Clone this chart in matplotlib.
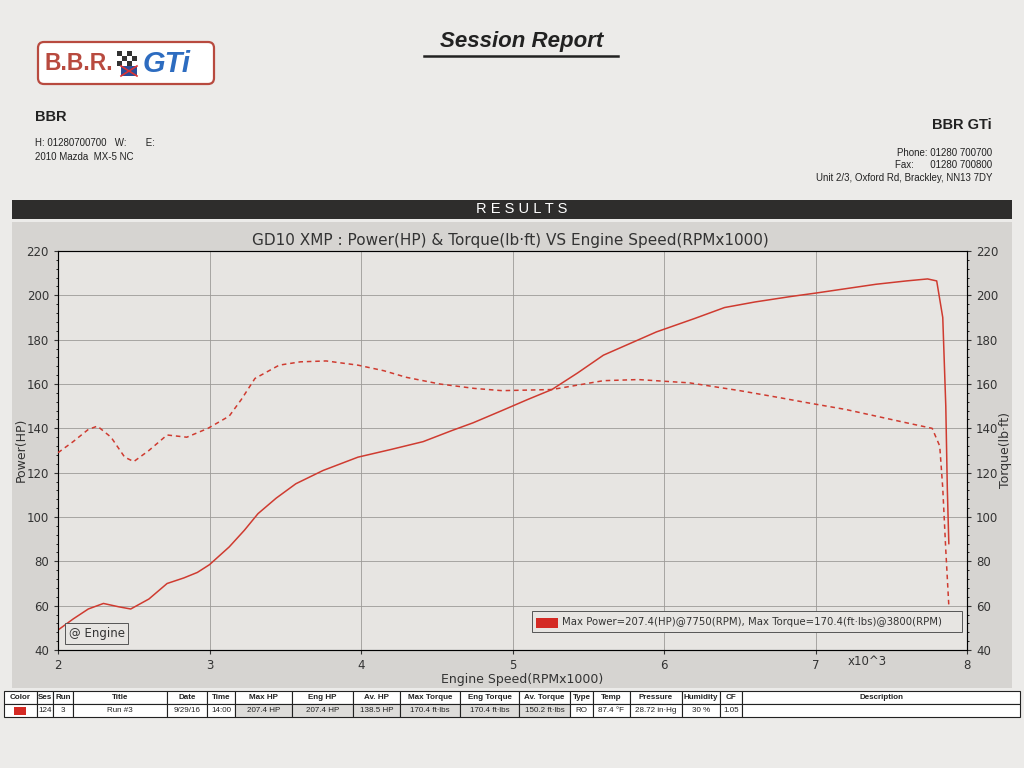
import matplotlib
matplotlib.use('Agg')
import matplotlib.pyplot as plt
from matplotlib.patches import Rectangle, FancyBboxPatch
from matplotlib.ticker import MultipleLocator

# Dyno run data (RPM x1000)
power_rpm = [2.00, 2.10, 2.20, 2.30, 2.40, 2.48, 2.60, 2.72, 2.83, 2.92, 3.00, 3.13,
             3.23, 3.32, 3.44, 3.57, 3.75, 3.98, 4.20, 4.41, 4.60, 4.74, 4.93, 5.10,
             5.26, 5.43, 5.60, 5.80, 5.95, 6.20, 6.40, 6.60, 6.84, 7.00, 7.20, 7.40,
             7.60, 7.74, 7.80, 7.84, 7.86, 7.87, 7.88]
power_hp = [49, 54, 58.5, 61, 59.5, 58.5, 63, 70, 72.5, 75, 78.5, 86.5,
            94, 101.5, 108.5, 115, 121, 127, 130.5, 134, 139, 142.5, 148, 153,
            157.5, 165, 173, 179, 183.5, 189.5, 194.5, 197, 199.5, 201, 203, 205,
            206.5, 207.4, 206.5, 190, 150, 113, 88]

torque_rpm = [2.00, 2.10, 2.20, 2.26, 2.35, 2.44, 2.50, 2.60, 2.72, 2.85, 2.99, 3.13,
              3.21, 3.30, 3.46, 3.60, 3.77, 3.98, 4.15, 4.30, 4.52, 4.75, 4.93, 5.26,
              5.60, 5.83, 6.17, 6.50, 6.75, 6.95, 7.20, 7.40, 7.60, 7.77, 7.82, 7.84,
              7.86, 7.88]
torque_lbft = [129, 134, 139.5, 141, 136, 127, 125, 130, 137, 136, 140, 145.5,
               153, 162.5, 168.5, 170, 170.4, 168.5, 166, 163, 160, 158, 157, 157.5,
               161.5, 162, 160.5, 157, 154, 151.5, 148.5, 145.5, 142.5, 140, 132, 113,
               85, 60]

x_ticks = [2, 3, 4, 5, 6, 7, 8]
y_ticks = [40, 60, 80, 100, 120, 140, 160, 180, 200, 220]

table_cols = ['Color', 'Ses', 'Run', 'Title', 'Date', 'Time', 'Max HP', 'Eng HP',
              'Av. HP', 'Max Torque', 'Eng Torque', 'Av. Torque', 'Type', 'Temp',
              'Pressure', 'Humidity', 'CF', 'Description']
table_row = ['', '124', '3', 'Run #3', '9/29/16', '14:00', '207.4 HP', '207.4 HP',
             '138.5 HP', '170.4 ft·lbs', '170.4 ft·lbs', '150.2 ft·lbs', 'RO',
             '87.4 °F', '28.72 in·Hg', '30 %', '1.05', '']
col_edges = [4, 37, 53, 73, 167, 207, 235, 292, 353, 400, 460, 519, 570, 593,
             630, 682, 720, 742, 1020]

red = '#cf3b30'
paper = '#ecebe9'

fig = plt.figure(figsize=(10.24, 7.68), dpi=100, facecolor=paper)

# page furniture drawn in pixel coordinates
bg = fig.add_axes([0, 0, 1, 1])
bg.set_xlim(0, 1024)
bg.set_ylim(768, 0)
bg.axis('off')

# logo
bg.add_patch(FancyBboxPatch((38, 42), 176, 42, boxstyle='round,pad=0,rounding_size=6',
                            fc='white', ec='#b84a3f', lw=1.6))
bg.text(44, 64, 'B.B.R.', color='#b84a3f', fontsize=16.5, fontweight='bold',
        family='Liberation Sans', va='center')
for i in range(4):
    for j in range(3):
        c = '#333333' if (i + j) % 2 == 0 else 'white'
        bg.add_patch(Rectangle((117 + i * 5, 51 + j * 5), 5, 5, fc=c, ec='none'))
bg.add_patch(Rectangle((121, 66), 16, 10, fc='#2a4f9a', ec='none'))
bg.plot([121, 137], [66, 76], color='#d33', lw=1.2)
bg.plot([121, 137], [76, 66], color='#d33', lw=1.2)
bg.text(143, 64, 'GTi', color='#2d6cc0', fontsize=21, fontweight='bold',
        style='italic', family='Liberation Sans', va='center')

bg.text(522, 42, 'Session Report', fontsize=16, fontweight='bold', style='italic',
        family='Liberation Sans', ha='center', va='center', color='#222222')
bg.plot([424, 618], [56, 56], color='#222222', lw=1.8)

bg.text(35, 117, 'BBR', fontsize=10.5, fontweight='bold', family='Liberation Sans',
        va='center', color='#222222')
bg.text(35, 143, 'H: 01280700700   W:       E:', fontsize=7, family='Liberation Sans',
        va='center', color='#222222')
bg.text(35, 157, '2010 Mazda  MX-5 NC', fontsize=7, family='Liberation Sans',
        va='center', color='#222222')

bg.text(992, 125, 'BBR GTi', fontsize=10.5, fontweight='bold', family='Liberation Sans',
        ha='right', va='center', color='#222222')
bg.text(992, 153, 'Phone: 01280 700700', fontsize=7, family='Liberation Sans',
        ha='right', va='center', color='#222222')
bg.text(992, 165, 'Fax:      01280 700800', fontsize=7, family='Liberation Sans',
        ha='right', va='center', color='#222222')
bg.text(992, 178, 'Unit 2/3, Oxford Rd, Brackley, NN13 7DY', fontsize=7,
        family='Liberation Sans', ha='right', va='center', color='#222222')

# results banner
bg.add_patch(Rectangle((12, 200), 1000, 19, fc='#2e2d2c', ec='none'))
bg.text(522, 209, 'R E S U L T S', color='white', fontsize=10.5, ha='center',
        va='center', family='Liberation Sans')

# chart panel
bg.add_patch(Rectangle((12, 222), 1000, 466, fc='#d6d4d1', ec='none'))
bg.text(510, 240, 'GD10 XMP : Power(HP) & Torque(lb·ft) VS Engine Speed(RPMx1000)',
        fontsize=11, ha='center', va='center', color='#333333')
bg.text(21, 450, 'Power(HP)', rotation=90, fontsize=9, ha='center', va='center',
        color='#333333')
bg.text(1006, 450, 'Torque(lb·ft)', rotation=90, fontsize=9, ha='center', va='center',
        color='#333333')
bg.text(522, 680, 'Engine Speed(RPMx1000)', fontsize=9, ha='center', va='center',
        color='#333333')

# results table
top, mid, bot = 691, 704, 717
for k, name in enumerate(table_cols):
    x0, x1 = col_edges[k], col_edges[k + 1]
    bg.add_patch(Rectangle((x0, top), x1 - x0, mid - top, fc='white', ec='#222222', lw=0.8))
    shade = '#dddcda' if 6 <= k <= 11 else 'white'
    bg.add_patch(Rectangle((x0, mid), x1 - x0, bot - mid, fc=shade, ec='#222222', lw=0.8))
    bg.text((x0 + x1) / 2, (top + mid) / 2, name, fontsize=5.8, fontweight='bold',
            ha='center', va='center', family='Liberation Sans', color='#222222')
    bg.text((x0 + x1) / 2, (mid + bot) / 2, table_row[k], fontsize=5.8,
            ha='center', va='center', family='Liberation Sans', color='#222222')
bg.add_patch(Rectangle((14, mid + 3), 12, 8, fc='#d42a24', ec='none'))

# the dyno plot itself
ax = fig.add_axes([58 / 1024, 1 - 650 / 768, (967 - 58) / 1024, (650 - 251) / 768])
ax.set_facecolor('#e7e5e2')
ax.plot(power_rpm, power_hp, color=red, lw=1.1, zorder=3)
ax.set_xlim(2, 8)
ax.set_ylim(40, 220)
ax.set_xticks(x_ticks)
ax.set_yticks(y_ticks)
ax.yaxis.set_minor_locator(MultipleLocator(4))
ax.grid(True, color='#9c9a97', lw=0.6)
ax.tick_params(labelsize=8.5, colors='#333333', length=3)
ax.tick_params(which='minor', length=1.5)
for s in ax.spines.values():
    s.set_color('#555555')
    s.set_linewidth(0.8)

ax2 = ax.twinx()
ax2.plot(torque_rpm, torque_lbft, color=red, lw=1.1, dashes=(3, 2.5), zorder=3)
ax2.set_ylim(40, 220)
ax2.set_yticks(y_ticks)
ax2.yaxis.set_minor_locator(MultipleLocator(4))
ax2.tick_params(labelsize=8.5, colors='#333333', length=3)
ax2.tick_params(which='minor', length=1.5)

ax.text(0.89, -0.012, 'x10^3', transform=ax.transAxes, fontsize=8.5, ha='center',
        va='top', color='#333333')

# "@ Engine" box and max values legend
ax.text(0.012, 0.025, '@ Engine', transform=ax.transAxes, fontsize=8.5,
        color='#333333', va='bottom',
        bbox=dict(boxstyle='square,pad=0.3', fc='#e7e5e2', ec='#555555', lw=0.7))
ax.add_patch(Rectangle((0.522, 0.045), 0.472, 0.052, transform=ax.transAxes,
                       fc='#e7e5e2', ec='#555555', lw=0.7, zorder=4))
ax.add_patch(Rectangle((0.526, 0.056), 0.024, 0.024, transform=ax.transAxes,
                       fc='#d42a24', ec='none', zorder=5))
ax.text(0.554, 0.071, 'Max Power=207.4(HP)@7750(RPM), Max Torque=170.4(ft·lbs)@3800(RPM)',
        transform=ax.transAxes, fontsize=7.3, color='#333333', va='center', zorder=5)

fig.savefig('out.png', dpi=100, facecolor=paper)
